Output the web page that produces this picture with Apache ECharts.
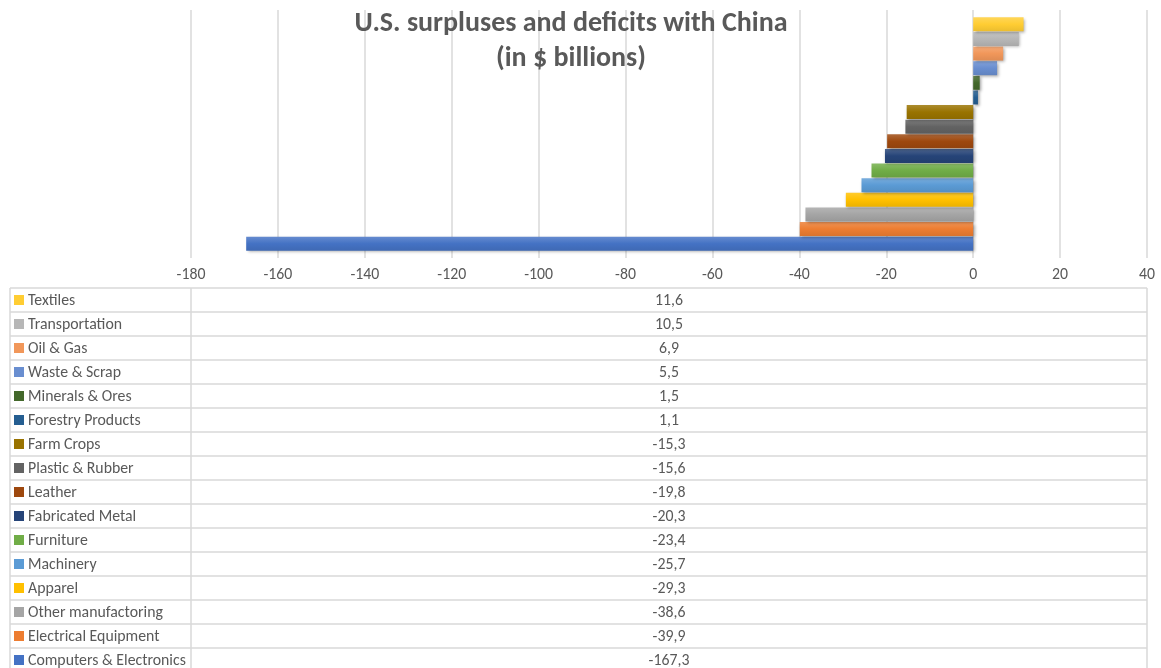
<!DOCTYPE html>
<html>
<head>
<meta charset="utf-8">
<script src="https://cdn.jsdelivr.net/npm/echarts@6/dist/echarts.min.js"></script>
<style>html,body{margin:0;padding:0;background:#fff;}#c{width:1161px;height:668px;}</style>
</head>
<body>
<div id="c"></div>
<script>
// Data (bottom-to-top order on the chart)
const categories = ["Computers & Electronics","Electrical Equipment","Other manufactoring","Apparel","Machinery","Furniture","Fabricated Metal","Leather","Plastic & Rubber","Farm Crops","Forestry Products","Minerals & Ores","Waste & Scrap","Oil & Gas","Transportation","Textiles"];
const values = [-167.3,-39.9,-38.6,-29.3,-25.7,-23.4,-20.3,-19.8,-15.6,-15.3,1.1,1.5,5.5,6.9,10.5,11.6];
const colors = ["#4472C4","#ED7D31","#A5A5A5","#FFC000","#5B9BD5","#70AD47","#264478","#9E480E","#636363","#997300","#255E91","#43682B","#698ED0","#F1975A","#B7B7B7","#FFCD33"];
const tickMin = -180, tickMax = 40, tickStep = 20;
const titleLines = ["U.S. surpluses and deficits with China","(in $ billions)"];

const FONT = "Carlito, Lato, 'Noto Sans', sans-serif";
const TXT = "#595959", LINE = "#D9D9D9";
const L = {left:191, right:1147, plotTop:17, plotH:234, gridTop:10, gridBottom:258, tableTop:288, rowH:24, tableLeft:10};

function shade(hex, f){
  const n=parseInt(hex.slice(1),16); let r=n>>16, g=(n>>8)&255, b=n&255;
  if(f>0){r=r+(255-r)*f; g=g+(255-g)*f; b=b+(255-b)*f;} else {r=r*(1+f); g=g*(1+f); b=b*(1+f);}
  return 'rgb('+Math.round(r)+','+Math.round(g)+','+Math.round(b)+')';
}

const chart = echarts.init(document.getElementById('c'), null, {renderer:'canvas'});

const barData = values.map((v,i)=>({value:v, itemStyle:{color:new echarts.graphic.LinearGradient(0,0,0,1,[{offset:0,color:shade(colors[i],0.18)},{offset:0.5,color:colors[i]},{offset:1,color:shade(colors[i],-0.08)}])}}));

// Table graphics built from the arrays
const graphics = [];
const n = categories.length;
const tableBottom = L.tableTop + n*L.rowH;
for(let r=0;r<=n;r++){
  const y = L.tableTop + r*L.rowH;
  graphics.push({type:'line', shape:{x1:L.tableLeft,y1:y,x2:L.right,y2:y}, style:{stroke:LINE,lineWidth:1.5}, silent:true});
}
[L.tableLeft, L.left, L.right].forEach(x=>{
  graphics.push({type:'line', shape:{x1:x,y1:L.tableTop,x2:x,y2:tableBottom}, style:{stroke:LINE,lineWidth:1.5}, silent:true});
});
for(let r=0;r<n;r++){
  const i = n-1-r;
  const cy = L.tableTop + r*L.rowH + L.rowH/2;
  graphics.push({type:'rect', shape:{x:14,y:cy-5,width:10,height:10}, style:{fill:colors[i]}, silent:true});
  graphics.push({type:'text', x:28, y:cy+1, style:{text:categories[i], fill:TXT, font:'15.8px '+FONT, textVerticalAlign:'middle', verticalAlign:'middle'}, silent:true});
  graphics.push({type:'text', x:(L.left+L.right)/2, y:cy+1, style:{text:values[i].toFixed(1).replace('.',','), fill:TXT, font:'15.8px '+FONT, textAlign:'center', align:'center', verticalAlign:'middle', textVerticalAlign:'middle'}, silent:true});
}
titleLines.forEach((t,k)=>{
  graphics.push({type:'text', x:571, y:24+k*35, z:10, style:{text:t, fill:TXT, font:'bold 28px '+FONT, align:'center', textAlign:'center', verticalAlign:'middle', textVerticalAlign:'middle'}, silent:true});
});

chart.setOption({
  animation:false,
  grid:[
    {left:L.left, width:L.right-L.left, top:L.plotTop, height:L.plotH},
    {left:L.left, width:L.right-L.left, top:L.gridTop, height:L.gridBottom-L.gridTop}
  ],
  xAxis:[
    {gridIndex:0, type:'value', min:tickMin, max:tickMax, interval:tickStep, axisLine:{show:false}, axisTick:{show:false}, axisLabel:{show:false}, splitLine:{show:false}},
    {gridIndex:1, type:'value', min:tickMin, max:tickMax, interval:tickStep, axisLine:{show:false}, axisTick:{show:false},
     axisLabel:{color:TXT, fontSize:15.8, fontFamily:FONT, margin:9}, splitLine:{show:true, lineStyle:{color:LINE, width:1.5}}}
  ],
  yAxis:[
    {gridIndex:0, type:'category', data:categories, show:false},
    {gridIndex:1, type:'category', data:[''], show:false}
  ],
  series:[{
    type:'bar', xAxisIndex:0, yAxisIndex:0, data:barData, barWidth:14, z:3,
    itemStyle:{shadowColor:'rgba(0,0,0,0.35)', shadowBlur:3, shadowOffsetX:1.5, shadowOffsetY:1.5}
  }],
  graphic:graphics
});
</script>
</body>
</html>
